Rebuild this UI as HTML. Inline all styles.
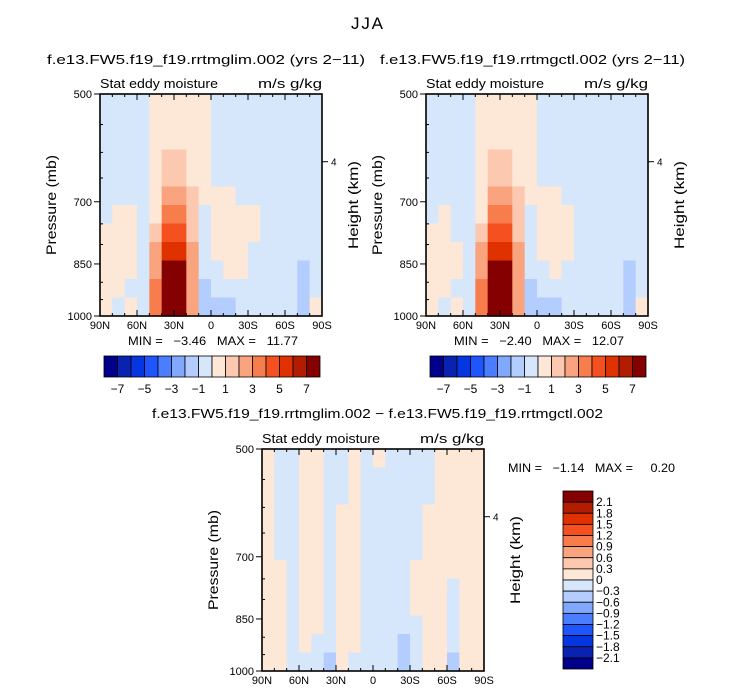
<!DOCTYPE html>
<html><head><meta charset="utf-8"><style>
html,body{margin:0;padding:0;background:#fff;}
svg text{font-family:"Liberation Sans",sans-serif;fill:#000;white-space:pre;}
</style></head><body>
<svg id="s" width="733" height="695" xmlns="http://www.w3.org/2000/svg">
<text x="367" y="29" font-size="17" text-anchor="middle" textLength="32">JJA</text>
<text x="47" y="64" font-size="13" textLength="318" lengthAdjust="spacingAndGlyphs">f.e13.FW5.f19_f19.rrtmglim.002 (yrs 2−11)</text>
<text x="380" y="64" font-size="13" textLength="305" lengthAdjust="spacingAndGlyphs">f.e13.FW5.f19_f19.rrtmgctl.002 (yrs 2−11)</text>
<text x="152" y="418" font-size="13" textLength="451" lengthAdjust="spacingAndGlyphs">f.e13.FW5.f19_f19.rrtmglim.002 − f.e13.FW5.f19_f19.rrtmgctl.002</text>
<g id="g"></g>
</svg>
<script>
// ---- data ----
const latTicks = ["90N","60N","30N","0","30S","60S","90S"];
const pTicks = [500,700,850,1000];
const topLevels = [-7,-6,-5,-4,-3,-2,-1,0,1,2,3,4,5,6,7];
const topLabels = ["−7","−5","−3","−1","1","3","5","7"];
const diffLevels = [-2.1,-1.8,-1.5,-1.2,-0.9,-0.6,-0.3,0,0.3,0.6,0.9,1.2,1.5,1.8,2.1];
const diffLabels = ["2.1","1.8","1.5","1.2","0.9","0.6","0.3","0","−0.3","−0.6","−0.9","−1.2","−1.5","−1.8","−2.1"];
const palette = ["#00008a","#0a22b0","#0536e0","#1f55ff","#4a7dff","#80a8ff","#b4cdff","#d6e6fb","#fde7d7","#fcc8b0","#f9a47e","#f77d4d","#f5501f","#e03200","#b21d00","#850000"];
// 18 lat bands (90N->90S), 12 log-p rows (500->1000)
const fieldLim = [
[-.5,-.5,-.5,-.5,.5,.5,.5,.5,.5,-.5,-.5,-.5,-.5,-.5,-.5,-.5,-.5,-.5],
[-.5,-.5,-.5,-.5,.5,.5,.5,.5,.5,-.5,-.5,-.5,-.5,-.5,-.5,-.5,-.5,-.5],
[-.5,-.5,-.5,-.5,.5,.5,.5,.5,.5,-.5,-.5,-.5,-.5,-.5,-.5,-.5,-.5,-.5],
[-.5,-.5,-.5,-.5,.5,1.5,1.2,.5,.5,-.5,-.5,-.5,-.5,-.5,-.5,-.5,-.5,-.5],
[-.5,-.5,-.5,-.5,.5,1.5,1.5,.5,.5,-.5,-.5,-.5,-.5,-.5,-.5,-.5,-.5,-.5],
[-.5,-.5,-.5,-.5,.5,2.5,2.5,1.2,.5,.5,.5,-.5,-.5,-.5,-.5,-.5,-.5,-.5],
[-.5,.5,.5,-.5,.5,3.5,3.5,1.5,-.5,.5,.5,.5,.5,-.5,-.5,-.5,-.5,-.5],
[.5,.5,.5,-.5,1.2,4.5,4.5,1.5,-.5,.5,.5,.5,.5,-.5,-.5,-.5,-.5,-.5],
[.5,.5,.5,-.5,2,5.5,5.5,2,-.5,.5,.5,.5,-.5,-.5,-.5,-.5,-.5,-.5],
[.5,.5,.5,-.5,2.5,7.5,7.5,2.5,-.5,-.5,.5,.5,-.5,-.5,-.5,-.5,-1.2,-.5],
[.5,.5,-.5,-.5,3,9,9,2.5,-1.2,-.5,-.5,-.5,-.5,-.5,-.5,-.5,-1.2,-.5],
[.5,-.5,.5,-.5,3,11,11,2,-1.5,-1.2,-1.2,-.5,-.5,-.5,-.5,-.5,-1.5,.5]];
const fieldCtl = [
[-.5,-.5,-.5,-.5,.5,.5,.5,.5,.5,-.5,-.5,-.5,-.5,-.5,-.5,-.5,-.5,-.5],
[-.5,-.5,-.5,-.5,.5,.5,.5,.5,.5,-.5,-.5,-.5,-.5,-.5,-.5,-.5,-.5,-.5],
[-.5,-.5,-.5,-.5,.5,.5,.5,.5,.5,-.5,-.5,-.5,-.5,-.5,-.5,-.5,-.5,-.5],
[-.5,-.5,-.5,-.5,.5,1.5,1.2,.5,.5,-.5,-.5,-.5,-.5,-.5,-.5,-.5,-.5,-.5],
[-.5,-.5,-.5,-.5,.5,1.5,1.5,.5,.5,-.5,-.5,-.5,-.5,-.5,-.5,-.5,-.5,-.5],
[-.5,-.5,-.5,-.5,.5,2.5,2.5,1.2,.5,.5,.5,-.5,-.5,-.5,-.5,-.5,-.5,-.5],
[-.5,.5,-.5,-.5,.5,3.5,3.5,1.5,-.5,.5,.5,.5,-.5,-.5,-.5,-.5,-.5,-.5],
[.5,.5,-.5,-.5,1.2,4.5,4.5,1.5,-.5,.5,.5,.5,-.5,-.5,-.5,-.5,-.5,-.5],
[.5,.5,.5,-.5,2,5.5,5.5,2,-.5,.5,.5,.5,-.5,-.5,-.5,-.5,-.5,-.5],
[.5,.5,.5,-.5,2.5,7.5,7.5,2.5,-.5,-.5,.5,-.5,-.5,-.5,-.5,-.5,-1.2,-.5],
[.5,.5,-.5,-.5,3,9.5,9.5,2.5,-1.2,-.5,-.5,-.5,-.5,-.5,-.5,-.5,-1.2,-.5],
[.5,-.5,.5,-.5,3,12,11,2,-1.5,-1.2,-1.2,-.5,-.5,-.5,-.5,-.5,-1.5,.5]];
const fieldDiff = [
[.1,-.1,-.1,.1,.1,-.1,-.1,.1,-.1,.1,-.1,-.1,-.1,-.1,.1,.1,.1,.1],
[.1,-.1,-.1,.1,.1,-.1,-.1,.1,-.1,-.1,-.1,-.1,-.1,-.1,.1,.1,.1,.1],
[.1,-.1,-.1,.1,.1,-.1,-.1,.1,-.1,-.1,-.1,-.1,-.1,-.1,.1,.1,.1,.1],
[.1,-.1,-.1,.1,.1,-.1,.1,.1,-.1,-.1,-.1,-.1,-.1,.1,.1,.1,.1,.1],
[.1,-.1,-.1,.1,.1,-.1,.1,.1,-.1,-.1,-.1,-.1,-.1,.1,.1,.1,.1,.1],
[.1,-.1,-.1,.1,.1,-.1,.1,.1,-.1,-.1,-.1,-.1,-.1,.1,.1,.1,.1,.1],
[.1,.1,-.1,.1,.1,-.1,.1,.1,-.1,-.1,-.1,-.1,.1,.1,.1,.1,.1,.1],
[.1,.1,-.1,.1,.1,-.1,.1,.1,-.1,-.1,-.1,-.1,.1,.1,.1,-.1,.1,.1],
[.1,.1,-.1,.1,.1,-.1,.1,.1,-.1,-.1,-.1,-.1,.1,.1,.1,-.1,.1,.1],
[.1,.1,-.1,.1,.1,-.1,.1,.1,-.1,-.1,-.1,-.1,-.1,.1,.1,-.1,.1,.1],
[.1,.1,-.1,.1,-.1,-.1,.1,.1,-.1,-.1,-.1,-.4,-.1,.1,.1,-.1,.1,.1],
[.1,.1,-.1,-.1,-.1,-.4,.1,-.1,-.1,-.1,-.1,-.4,-.1,.1,.1,-.4,.1,.1]];

const NS="http://www.w3.org/2000/svg";
const G=document.getElementById('g');
function mk(tag,attrs,parent){const e=document.createElementNS(NS,tag);for(const k in attrs)e.setAttribute(k,attrs[k]);(parent||G).appendChild(e);return e;}
function colorFor(v,levels){let i=0;while(i<levels.length&&v>=levels[i])i++;return palette[i];}

function panel(x0,y0,w,h,field,levels,name){
  const g=mk('g',{});
  
  
  const xS=lat=>x0+(90-lat)/180*w;
  const yS=p=>y0+Math.log(p/500)/Math.log(2)*h;
  const nr=field.length,nc=field[0].length;
  for(let r=0;r<nr;r++)for(let c=0;c<nc;c++){
    const lt=90-c*180/nc, lb=90-(c+1)*180/nc;
    const pt=500*Math.pow(2,r/nr), pb=500*Math.pow(2,(r+1)/nr);
    const x1=xS(lt),x2=xS(lb),y1=yS(pt),y2=yS(pb);
    const cell=mk('rect',{x:x1,y:y1,width:x2-x1+0.6,height:y2-y1+0.6,fill:colorFor(field[r][c],levels)},g);
    
    
  }
  mk('rect',{x:x0,y:y0,width:w,height:h,fill:'none',stroke:'#000','stroke-width':1.6},g);
  for(let lat=90;lat>=-90;lat-=10){
    const x=xS(lat),maj=(lat%30===0);
    const L=maj?6:3;
    mk('line',{x1:x,y1:y0+h,x2:x,y2:y0+h-L,stroke:'#000'},g);
    mk('line',{x1:x,y1:y0,x2:x,y2:y0+L,stroke:'#000'},g);
  }
  latTicks.forEach((t,i)=>{
    const lt=mk('text',{x:xS(90-i*30),y:y0+h+13,'font-size':11,'text-anchor':'middle'},g);lt.textContent=t;
    
    
  });
  pTicks.forEach(p=>{
    const y=yS(p);
    mk('line',{x1:x0-6,y1:y,x2:x0,y2:y,stroke:'#000'},g);
    const t=mk('text',{x:x0-8,y:y+4,'font-size':11,'text-anchor':'end'},g);t.textContent=p;
    
    
  });
  for(let p=550;p<1000;p+=50){if(pTicks.indexOf(p)<0){const y=yS(p);mk('line',{x1:x0,y1:y,x2:x0+3,y2:y,stroke:'#000'},g);}}
  const y4=y0+0.305*h;
  mk('line',{x1:x0+w,y1:y4,x2:x0+w+6,y2:y4,stroke:'#000'},g);
  const t4=mk('text',{x:x0+w+9,y:y4+4,'font-size':10},g);t4.textContent='4';
  const a=mk('text',{x:x0,y:y0-6,'font-size':13,textLength:118,lengthAdjust:'spacingAndGlyphs'},g);a.textContent='Stat eddy moisture';
  
  
  const u=mk('text',{x:x0+w-64,y:y0-6,'font-size':13,textLength:64,lengthAdjust:'spacingAndGlyphs'},g);u.textContent='m/s g/kg';
  const yl=mk('text',{transform:`translate(${x0-44},${y0+h/2}) rotate(-90)`,'font-size':14,'text-anchor':'middle',textLength:100,lengthAdjust:'spacingAndGlyphs'},g);yl.textContent='Pressure (mb)';
  
  
  const hl=mk('text',{transform:`translate(${x0+w+36},${y0+h/2}) rotate(-90)`,'font-size':14,'text-anchor':'middle',textLength:88,lengthAdjust:'spacingAndGlyphs'},g);hl.textContent='Height (km)';
  
  
}
function hbar(x0,y0,w,h){
  const g=mk('g',{});
  
  
  const bw=w/16;
  palette.forEach((c,i)=>{mk('rect',{x:x0+i*bw,y:y0,width:bw,height:h,fill:c,stroke:'#000','stroke-width':0.8},g);});
  topLabels.forEach((t,i)=>{const e=mk('text',{x:x0+(1+2*i)*bw,y:y0+h+16,'font-size':12,'text-anchor':'middle'},g);e.textContent=t;});
}
function vbar(x0,y0,w,h){
  const g=mk('g',{});
  
  
  const bh=h/16;
  palette.slice().reverse().forEach((c,i)=>{mk('rect',{x:x0,y:y0+i*bh,width:w,height:bh,fill:c,stroke:'#000','stroke-width':0.8},g);});
  diffLabels.forEach((t,i)=>{const e=mk('text',{x:x0+w+3,y:y0+(i+1)*bh+4,'font-size':12},g);e.textContent=t;});
}
function txt(x,y,s,len,name){const e=mk('text',{x:x,y:y,'font-size':12,textLength:len,lengthAdjust:'spacingAndGlyphs'});e.textContent=s;
  
  }

panel(100,94,222,222,fieldLim,topLevels,'lim-panel');
panel(426,94,222,222,fieldCtl,topLevels,'ctl-panel');
panel(262,449,222,222,fieldDiff,diffLevels,'diff-panel');
hbar(104,356,216,21);
hbar(430,356,216,21);
vbar(563,491,30,178);
txt(128,345,'MIN =   −3.46   MAX =   11.77',170,'lim-minmax');
txt(454,345,'MIN =   −2.40   MAX =   12.07',170,'ctl-minmax');
txt(508,472,'MIN =   −1.14   MAX =     0.20',167,'diff-minmax');
</script>
</body></html>
